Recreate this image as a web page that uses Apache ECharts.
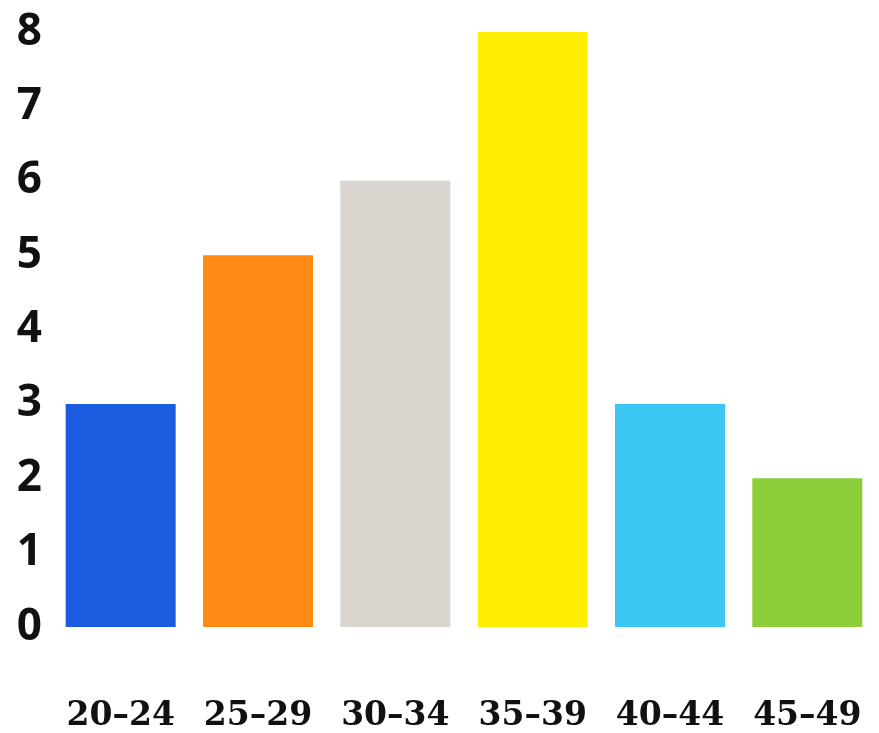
<!DOCTYPE html>
<html>
<head>
<meta charset="utf-8">
<style>
  html, body { margin: 0; padding: 0; background: #fff; }
  #chart { width: 879px; height: 733px; }
</style>
<script src="https://cdn.jsdelivr.net/npm/echarts@6/dist/echarts.min.js"></script>
</head>
<body>
<div id="chart"></div>
<script>
var ageGroups = ['20-24', '25-29', '30-34', '35-39', '40-44', '45-49'];
var counts = [3, 5, 6, 8, 3, 2];
var barColors = ['#1a5be0', '#ff8a14', '#dad6cf', '#ffee00', '#3cc6f4', '#8ccd3a'];
var yTicks = [0, 1, 2, 3, 4, 5, 6, 7, 8];

var myChart = echarts.init(document.getElementById('chart'));

var option = {
  backgroundColor: '#ffffff',
  grid: {
    left: 52,
    right: 3,
    top: 32,
    bottom: 105
  },
  xAxis: {
    type: 'category',
    data: ageGroups,
    axisLine: { show: false },
    axisTick: { show: false },
    axisLabel: {
      interval: 0,
      hideOverlap: false,
      margin: 73,
      color: '#111',
      fontFamily: 'DejaVu Serif',
      fontWeight: 'bold',
      fontSize: 33,
      formatter: function (v) { return v.replace('-', '\u2013'); }
    }
  },
  yAxis: {
    type: 'value',
    min: yTicks[0],
    max: yTicks[yTicks.length - 1],
    interval: 1,
    axisLine: { show: false },
    axisTick: { show: false },
    splitLine: { show: false },
    axisLabel: {
      margin: 10,
      color: '#111',
      fontFamily: 'Open Sans',
      fontWeight: 'bold',
      fontSize: 44
    }
  },
  series: [
    {
      type: 'bar',
      barWidth: 110,
      data: counts.map(function (v, i) {
        return { value: v, itemStyle: { color: barColors[i] } };
      })
    }
  ]
};

myChart.setOption(option);
window.addEventListener('resize', function () {
  myChart.resize();
});
</script>
</body>
</html>
